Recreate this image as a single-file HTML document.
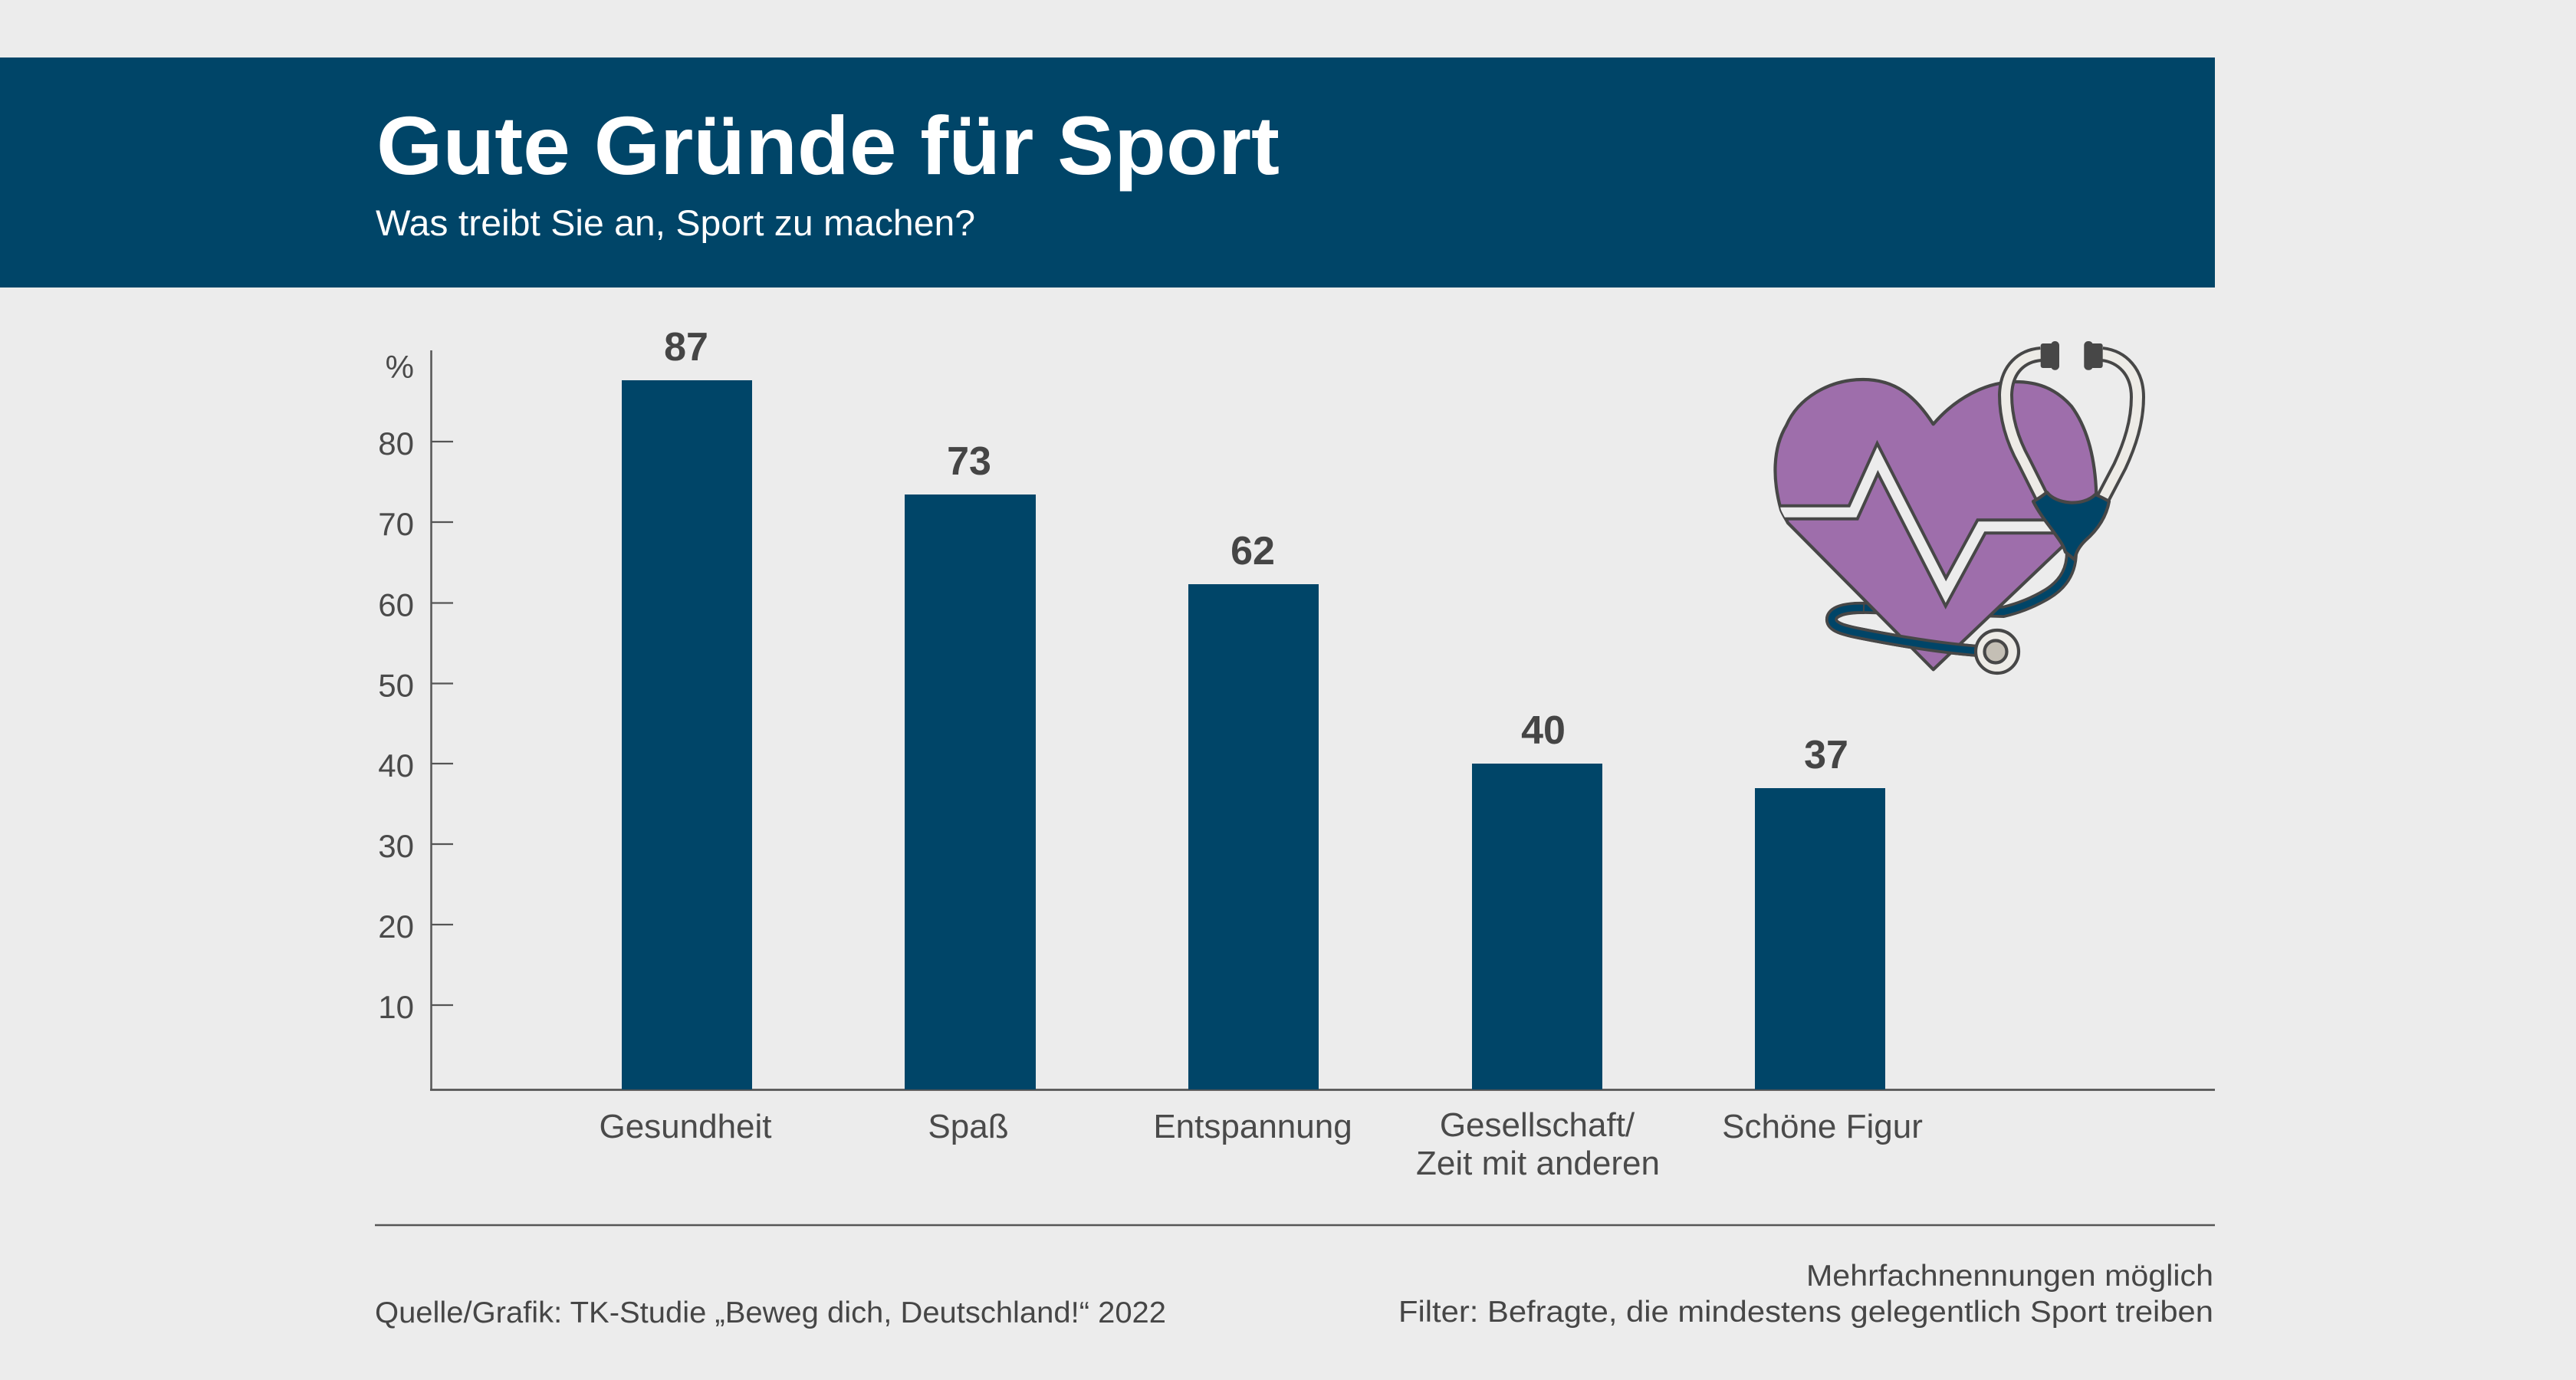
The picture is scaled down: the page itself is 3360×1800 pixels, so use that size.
<!DOCTYPE html>
<html>
<head>
<meta charset="utf-8">
<style>
html,body{margin:0;padding:0;background:#ececec;}
body{width:3360px;height:1800px;overflow:hidden;}
svg{display:block;}
text{font-family:"Liberation Sans",sans-serif;}
</style>
</head>
<body>
<svg width="3360" height="1800" viewBox="0 0 3360 1800" xmlns="http://www.w3.org/2000/svg">
  <rect x="0" y="0" width="3360" height="1800" fill="#ececec"/>
  <!-- Header banner -->
  <rect x="0" y="75" width="2889" height="300" fill="#004568"/>
  <text x="491" y="227" font-size="108" font-weight="bold" fill="#ffffff" textLength="1178" lengthAdjust="spacingAndGlyphs">Gute Gründe für Sport</text>
  <text x="490" y="307" font-size="47" fill="#ffffff" textLength="782" lengthAdjust="spacingAndGlyphs">Was treibt Sie an, Sport zu machen?</text>

  <!-- Axes -->
  <g stroke="#555555" fill="none">
    <line x1="562.5" y1="457" x2="562.5" y2="1422" stroke-width="2.5"/>
    <line x1="561" y1="1421.5" x2="2889" y2="1421.5" stroke-width="2.7"/>
    <g stroke-width="2.2">
      <line x1="563" y1="576" x2="591" y2="576"/>
      <line x1="563" y1="681" x2="591" y2="681"/>
      <line x1="563" y1="786.5" x2="591" y2="786.5"/>
      <line x1="563" y1="891.5" x2="591" y2="891.5"/>
      <line x1="563" y1="996" x2="591" y2="996"/>
      <line x1="563" y1="1101" x2="591" y2="1101"/>
      <line x1="563" y1="1206" x2="591" y2="1206"/>
      <line x1="563" y1="1311" x2="591" y2="1311"/>
    </g>
  </g>
  <g font-size="42" fill="#4a4a4a" text-anchor="end">
    <text x="540" y="493">%</text>
    <text x="540" y="593">80</text>
    <text x="540" y="698">70</text>
    <text x="540" y="803.5">60</text>
    <text x="540" y="908.5">50</text>
    <text x="540" y="1013">40</text>
    <text x="540" y="1118">30</text>
    <text x="540" y="1223">20</text>
    <text x="540" y="1328">10</text>
  </g>

  <!-- Bars -->
  <g fill="#004568">
    <rect x="811" y="496" width="170" height="925"/>
    <rect x="1180" y="645" width="171" height="776"/>
    <rect x="1550" y="762" width="170" height="659"/>
    <rect x="1920" y="996" width="170" height="425"/>
    <rect x="2289" y="1028" width="170" height="393"/>
  </g>
  <g font-size="52" font-weight="bold" fill="#454545" text-anchor="middle">
    <text x="895" y="470">87</text>
    <text x="1264" y="619">73</text>
    <text x="1634" y="736">62</text>
    <text x="2013" y="970">40</text>
    <text x="2382" y="1002">37</text>
  </g>
  <g font-size="44" fill="#4a4a4a" text-anchor="middle">
    <text x="894" y="1484">Gesundheit</text>
    <text x="1263" y="1484">Spaß</text>
    <text x="1634" y="1484">Entspannung</text>
    <text x="2005" y="1482">Gesellschaft/</text>
    <text x="2006" y="1532">Zeit mit anderen</text>
    <text x="2377" y="1484">Schöne Figur</text>
  </g>

  <!-- Footer -->
  <line x1="489" y1="1598" x2="2889" y2="1598" stroke="#555555" stroke-width="2.5"/>
  <g font-size="39" fill="#464646">
    <text x="489" y="1725" textLength="1032" lengthAdjust="spacingAndGlyphs">Quelle/Grafik: TK-Studie „Beweg dich, Deutschland!“ 2022</text>
    <text x="2887" y="1677" text-anchor="end" textLength="531" lengthAdjust="spacingAndGlyphs">Mehrfachnennungen möglich</text>
    <text x="2887" y="1724" text-anchor="end" textLength="1063" lengthAdjust="spacingAndGlyphs">Filter: Befragte, die mindestens gelegentlich Sport treiben</text>
  </g>

  <!-- Heart with stethoscope icon -->
  <defs>
    <clipPath id="heartClip">
      <path d="M 271.7 453.3 L 440 293 C 470 265, 486 250, 484 217 C 482 180, 474 140, 452 110 C 430 85, 405 78, 379 78 C 340 78, 300 100, 271.7 133.3 C 250 100, 225 75, 180 75 C 135 75, 95 100, 80 135 C 62 165, 62 205, 73 245 C 76 252, 80 258, 82 262 L 271.7 453.3 Z"/>
    </clipPath>
  </defs>
  <g transform="translate(2250,420)">
    <!-- navy tube (back) -->
    <path d="M 452 300 C 452 320, 445 340, 420 355 C 400 367, 380 374, 363 378 L 189 373 C 150 372, 138 380, 139 389 C 140 398, 155 402, 175 406 C 225 416, 280 425, 330 429" fill="none" stroke="#474747" stroke-width="16"/>
    <path d="M 452 300 C 452 320, 445 340, 420 355 C 400 367, 380 374, 363 378 L 189 373 C 150 372, 138 380, 139 389 C 140 398, 155 402, 175 406 C 225 416, 280 425, 330 429" fill="none" stroke="#004568" stroke-width="8.5"/>
    <!-- heart -->
    <path d="M 271.7 453.3 L 440 293 C 470 265, 486 250, 484 217 C 482 180, 474 140, 452 110 C 430 85, 405 78, 379 78 C 340 78, 300 100, 271.7 133.3 C 250 100, 225 75, 180 75 C 135 75, 95 100, 80 135 C 62 165, 62 205, 73 245 C 76 252, 80 258, 82 262 L 271.7 453.3 Z" fill="#9e6eab" stroke="#474747" stroke-width="4.2" stroke-linejoin="round"/>
    <!-- pulse band -->
    <g clip-path="url(#heartClip)">
      <polyline points="50,248.3 167.2,248.3 199,178 288,352.3 334.5,266.7 500,266.7" fill="none" stroke="#474747" stroke-width="21" stroke-linejoin="miter" stroke-miterlimit="10"/>
      <polyline points="40,248.3 167.2,248.3 199,178 288,352.3 334.5,266.7 510,266.7" fill="none" stroke="#ececec" stroke-width="13" stroke-linejoin="miter" stroke-miterlimit="10"/>
    </g>
    <!-- navy tube front part -->
    <path d="M 182 373 C 150 372, 138 380, 139 389 C 140 398, 155 402, 175 406 C 225 416, 280 425, 330 429" fill="none" stroke="#474747" stroke-width="16"/>
    <path d="M 180 373 C 150 372, 138 380, 139 389 C 140 398, 155 402, 175 406 C 225 416, 280 425, 330 429" fill="none" stroke="#004568" stroke-width="8.5"/>
    <!-- chest piece -->
    <circle cx="355" cy="430" r="28" fill="#edebe6" stroke="#474747" stroke-width="4.2"/>
    <circle cx="353" cy="430" r="14.5" fill="#c4bfb5" stroke="#474747" stroke-width="4.2"/>
    <!-- light tubes -->
    <path d="M 412 42 C 388 44, 367 60, 366 95 C 366 125, 375 155, 390 182 L 413 228" fill="none" stroke="#474747" stroke-width="20"/>
    <path d="M 412 42 C 388 44, 367 60, 366 95 C 366 125, 375 155, 390 182 L 413 228" fill="none" stroke="#edebe6" stroke-width="12"/>
    <path d="M 492 42 C 518 45, 538 65, 538 98 C 538 130, 528 160, 515 188 L 493 230" fill="none" stroke="#474747" stroke-width="20"/>
    <path d="M 492 42 C 518 45, 538 65, 538 98 C 538 130, 528 160, 515 188 L 493 230" fill="none" stroke="#edebe6" stroke-width="12"/>
    <!-- Y piece -->
    <path d="M 402 234 C 410 230, 415 226, 420 222 C 432 238, 467 241, 483 225 C 490 228, 496 231, 501 234 C 497 256, 485 272, 470 285 C 462 293, 458 300, 456 310 L 444 300 C 441 290, 435 283, 428 273 C 420 262, 410 250, 402 234 Z" fill="#004568" stroke="#474747" stroke-width="4.2" stroke-linejoin="round"/>
    <!-- earpieces -->
    <g fill="#474747">
      <rect x="411.7" y="28" width="16" height="32" rx="3"/>
      <rect x="425" y="25" width="11" height="37.7" rx="5.5"/>
      <rect x="477" y="28" width="15.7" height="32" rx="3"/>
      <rect x="468.3" y="25" width="11.7" height="37.7" rx="5.5"/>
    </g>
  </g>
</svg>
</body>
</html>
